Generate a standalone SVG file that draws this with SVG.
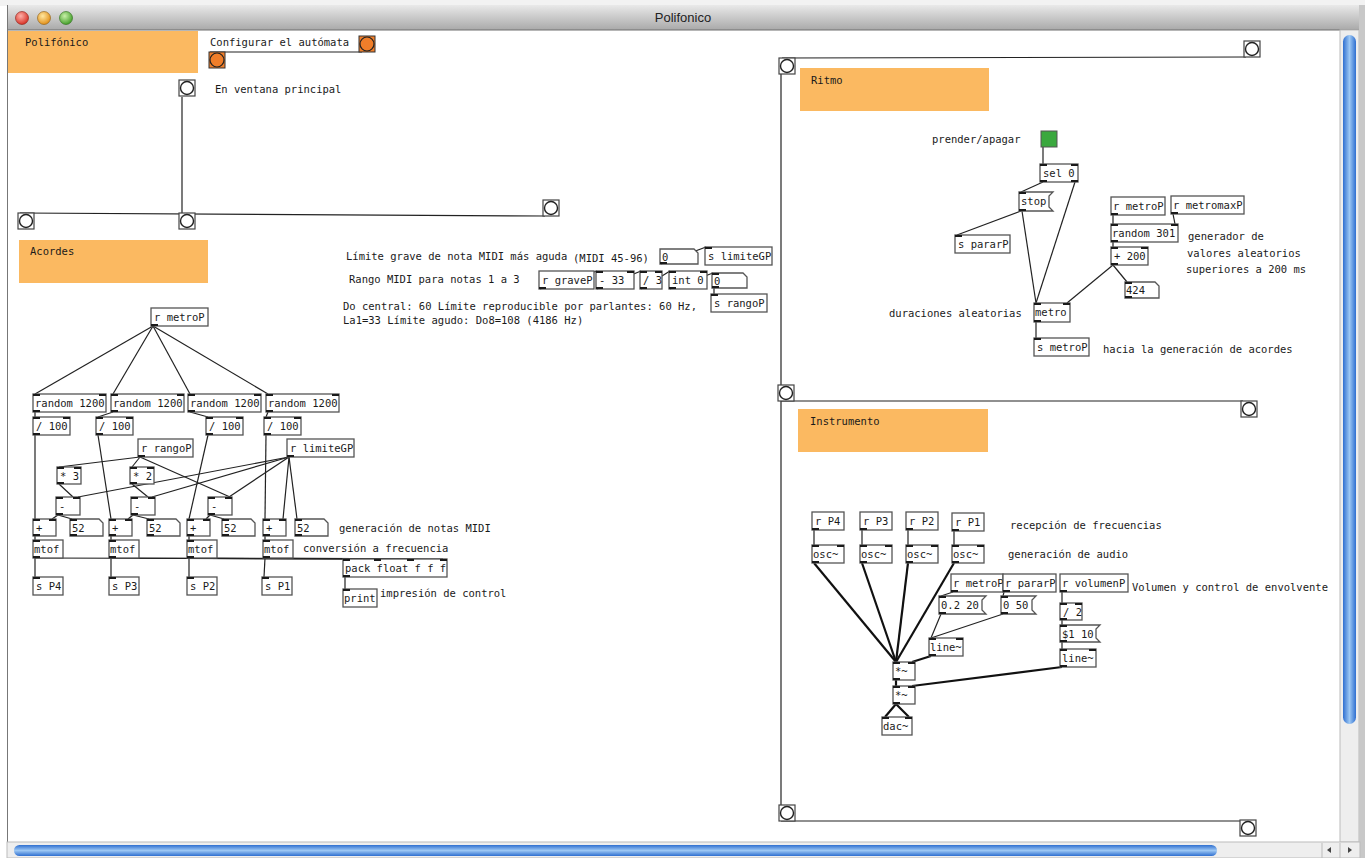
<svg xmlns="http://www.w3.org/2000/svg" width="1365" height="858" viewBox="0 0 1365 858">
<defs>
<linearGradient id="tb" x1="0" y1="0" x2="0" y2="1"><stop offset="0" stop-color="#e9e9e9"/><stop offset="1" stop-color="#a9a9a9"/></linearGradient>
<linearGradient id="vb" x1="0" y1="0" x2="1" y2="0"><stop offset="0" stop-color="#2f6fd0"/><stop offset="0.5" stop-color="#9cc7f4"/><stop offset="1" stop-color="#2f6fd0"/></linearGradient>
<linearGradient id="hb" x1="0" y1="0" x2="0" y2="1"><stop offset="0" stop-color="#2f6fd0"/><stop offset="0.5" stop-color="#9cc7f4"/><stop offset="1" stop-color="#2f6fd0"/></linearGradient>
<radialGradient id="rd" cx="0.4" cy="0.35" r="0.7"><stop offset="0" stop-color="#ffb0a8"/><stop offset="1" stop-color="#d42a1e"/></radialGradient>
<radialGradient id="yl" cx="0.4" cy="0.35" r="0.7"><stop offset="0" stop-color="#ffe7a0"/><stop offset="1" stop-color="#e08a10"/></radialGradient>
<radialGradient id="gr" cx="0.4" cy="0.35" r="0.7"><stop offset="0" stop-color="#c8f0a8"/><stop offset="1" stop-color="#3c9a22"/></radialGradient>
</defs>
<style>
.b{fill:#fff;stroke:#555;stroke-width:1.3}
.t{font-family:"DejaVu Sans Mono","Liberation Mono",monospace;font-size:10.5px;fill:#1a1a1a}
.cm{font-family:"DejaVu Sans Mono","Liberation Mono",monospace;font-size:10.5px;fill:#1a1a1a}
.io{fill:#1a1a1a}
.c{stroke:#222;stroke-width:1.2;fill:none}
.s{stroke:#111;stroke-width:2.2;fill:none}
.or{fill:#fbb961}
.bg{fill:#fff;stroke:#444;stroke-width:1.2}
.bc{fill:#fff;stroke:#222;stroke-width:1.4}
</style>
<rect x="0" y="0" width="1365" height="858" fill="#fff"/>
<rect x="0" y="0" width="1365" height="6" fill="#f2f2f2"/>
<!-- title bar -->
<rect x="7" y="5" width="1353" height="25" fill="url(#tb)"/>
<line x1="7" y1="30" x2="1360" y2="30" stroke="#6e6e6e"/>
<circle cx="22" cy="18" r="6.5" fill="url(#rd)" stroke="#8a1a12" stroke-width="0.6"/>
<circle cx="44" cy="18" r="6.5" fill="url(#yl)" stroke="#8a5a10" stroke-width="0.6"/>
<circle cx="66" cy="18" r="6.5" fill="url(#gr)" stroke="#2a6a18" stroke-width="0.6"/>
<text x="683" y="22" text-anchor="middle" font-family="Liberation Sans, Arial, sans-serif" font-size="13" fill="#222">Polifonico</text>
<line x1="7.5" y1="5" x2="7.5" y2="842" stroke="#777"/>
<!-- scrollbars -->
<rect x="1340" y="30" width="19" height="812" fill="#eeeeee" stroke="#bbb"/>
<rect x="1343" y="35" width="13" height="689" rx="6.5" fill="url(#vb)"/>
<rect x="1359" y="5" width="6" height="853" fill="#c8c8c8"/>
<rect x="7" y="842" width="1353" height="16" fill="#eeeeee" stroke="#bbb"/>
<rect x="14" y="845" width="1203" height="11" rx="5.5" fill="url(#hb)"/>
<line x1="1322" y1="843" x2="1322" y2="858" stroke="#bbb"/>
<line x1="1340" y1="843" x2="1340" y2="858" stroke="#bbb"/>
<path d="M1331 847 l-4 3 4 3z" fill="#444"/>
<path d="M1348 847 l4 3 -4 3z" fill="#444"/>

<!-- canvases / comments -->
<g id="cnv-polifonico"><rect class="or" x="8" y="31" width="190" height="42"/><text class="cm" x="25" y="46">Polifónico</text></g>
<g id="cnv-acordes"><rect class="or" x="19" y="240" width="189" height="43"/><text class="cm" x="30" y="255">Acordes</text></g>
<g id="cnv-ritmo"><rect class="or" x="800" y="68" width="189" height="43"/><text class="cm" x="811" y="84">Ritmo</text></g>
<g id="cnv-instrumento"><rect class="or" x="798" y="409" width="190" height="43"/><text class="cm" x="810" y="425">Instrumento</text></g>

<g id="comments">
<text class="cm" x="210" y="46">Configurar el autómata</text>
<text class="cm" x="215" y="93">En ventana principal</text>
<text class="cm" x="346" y="260">Límite grave de nota MIDI más aguda</text>
<text class="cm" x="573" y="262">(MIDI 45-96)</text>
<text class="cm" x="349" y="283">Rango MIDI para notas 1 a 3</text>
<text class="cm" x="343" y="310">Do central: 60 Límite reproducible por parlantes: 60 Hz,</text>
<text class="cm" x="343" y="324">La1=33 Límite agudo: Do8=108 (4186 Hz)</text>
<text class="cm" x="339" y="532">generación de notas MIDI</text>
<text class="cm" x="303" y="552">conversión a frecuencia</text>
<text class="cm" x="380" y="597">impresión de control</text>
<text class="cm" x="932" y="143">prender/apagar</text>
<text class="cm" x="1188" y="240">generador de</text>
<text class="cm" x="1187" y="257">valores aleatorios</text>
<text class="cm" x="1186" y="273">superiores a 200 ms</text>
<text class="cm" x="889" y="317">duraciones aleatorias</text>
<text class="cm" x="1103" y="353">hacia la generación de acordes</text>
<text class="cm" x="1010" y="529">recepción de frecuencias</text>
<text class="cm" x="1008" y="558">generación de audio</text>
<text class="cm" x="1132" y="591">Volumen y control de envolvente</text>
</g>

<!-- connectors -->
<g id="connectors">
<line class="c" x1="210" y1="52" x2="362" y2="52"/>
<line class="c" x1="182" y1="97" x2="182" y2="213"/>
<line class="c" x1="20" y1="213" x2="545" y2="216"/>
<line class="c" x1="782" y1="58" x2="1246" y2="57"/>
<line class="c" x1="781" y1="58" x2="781" y2="806"/>
<line class="c" x1="781" y1="401" x2="1243" y2="401"/>
<line class="c" x1="781" y1="821" x2="1242" y2="821"/>
<!-- middle -->
<line class="c" x1="661" y1="264" x2="706" y2="247"/>
<line class="c" x1="540" y1="289" x2="597" y2="271"/>
<line class="c" x1="597" y1="289" x2="641" y2="271"/>
<line class="c" x1="641" y1="289" x2="670" y2="271"/>
<line class="c" x1="670" y1="289" x2="713" y2="273"/>
<line class="c" x1="714" y1="288" x2="714" y2="294"/>
<!-- left patch -->
<line class="c" x1="153" y1="326" x2="35" y2="394"/>
<line class="c" x1="153" y1="326" x2="113" y2="394"/>
<line class="c" x1="153" y1="326" x2="190" y2="394"/>
<line class="c" x1="153" y1="326" x2="268" y2="394"/>
<line class="c" x1="35" y1="412" x2="35" y2="417"/>
<line class="c" x1="113" y1="412" x2="98" y2="417"/>
<line class="c" x1="190" y1="412" x2="208" y2="417"/>
<line class="c" x1="268" y1="412" x2="266" y2="417"/>
<line class="c" x1="35" y1="435" x2="35" y2="519"/>
<line class="c" x1="98" y1="435" x2="111" y2="519"/>
<line class="c" x1="208" y1="435" x2="189" y2="519"/>
<line class="c" x1="266" y1="435" x2="265" y2="519"/>
<line class="c" x1="140" y1="457" x2="59" y2="467"/>
<line class="c" x1="140" y1="457" x2="132" y2="467"/>
<line class="c" x1="140" y1="457" x2="230" y2="497"/>
<line class="c" x1="289" y1="457" x2="78" y2="497"/>
<line class="c" x1="289" y1="457" x2="152" y2="497"/>
<line class="c" x1="289" y1="457" x2="229" y2="497"/>
<line class="c" x1="289" y1="457" x2="283" y2="519"/>
<line class="c" x1="289" y1="457" x2="297" y2="519"/>
<line class="c" x1="59" y1="484" x2="73" y2="497"/>
<line class="c" x1="132" y1="484" x2="148" y2="497"/>
<line class="c" x1="58" y1="515" x2="52" y2="519"/>
<line class="c" x1="58" y1="515" x2="72" y2="519"/>
<line class="c" x1="133" y1="515" x2="128" y2="519"/>
<line class="c" x1="133" y1="515" x2="149" y2="519"/>
<line class="c" x1="210" y1="515" x2="206" y2="519"/>
<line class="c" x1="210" y1="515" x2="224" y2="519"/>
<line class="c" x1="35" y1="536" x2="35" y2="540"/>
<line class="c" x1="111" y1="536" x2="111" y2="540"/>
<line class="c" x1="189" y1="536" x2="189" y2="540"/>
<line class="c" x1="265" y1="536" x2="265" y2="540"/>
<line class="c" x1="35" y1="558" x2="345" y2="559"/>
<line class="c" x1="111" y1="558" x2="377" y2="559"/>
<line class="c" x1="189" y1="558" x2="410" y2="559"/>
<line class="c" x1="265" y1="558" x2="443" y2="559"/>
<line class="c" x1="35" y1="558" x2="35" y2="577"/>
<line class="c" x1="111" y1="558" x2="111" y2="577"/>
<line class="c" x1="189" y1="558" x2="189" y2="577"/>
<line class="c" x1="265" y1="558" x2="264" y2="577"/>
<line class="c" x1="345" y1="577" x2="345" y2="589"/>
<!-- ritmo -->
<line class="c" x1="1043" y1="147" x2="1043" y2="164"/>
<line class="c" x1="1043" y1="182" x2="1021" y2="192"/>
<line class="c" x1="1075" y1="182" x2="1036" y2="303"/>
<line class="c" x1="1021" y1="211" x2="957" y2="235"/>
<line class="c" x1="1022" y1="211" x2="1036" y2="303"/>
<line class="c" x1="1113" y1="215" x2="1113" y2="224"/>
<line class="c" x1="1173" y1="214" x2="1175" y2="224"/>
<line class="c" x1="1113" y1="242" x2="1113" y2="247"/>
<line class="c" x1="1113" y1="265" x2="1067" y2="303"/>
<line class="c" x1="1113" y1="265" x2="1127" y2="282"/>
<line class="c" x1="1036" y1="322" x2="1036" y2="338"/>
<!-- instrumento -->
<line class="c" x1="814" y1="530" x2="814" y2="545"/>
<line class="c" x1="862" y1="530" x2="862" y2="545"/>
<line class="c" x1="908" y1="530" x2="908" y2="545"/>
<line class="c" x1="954" y1="530" x2="954" y2="545"/>
<line class="s" x1="814" y1="563" x2="896" y2="662"/>
<line class="s" x1="862" y1="563" x2="896" y2="662"/>
<line class="s" x1="908" y1="563" x2="896" y2="662"/>
<line class="s" x1="954" y1="563" x2="896" y2="662"/>
<line class="c" x1="953" y1="592" x2="941" y2="596"/>
<line class="c" x1="1004" y1="592" x2="1003" y2="596"/>
<line class="c" x1="941" y1="614" x2="931" y2="638"/>
<line class="c" x1="1003" y1="614" x2="931" y2="638"/>
<line class="s" x1="931" y1="656" x2="912" y2="662"/>
<line class="s" x1="896" y1="680" x2="896" y2="686"/>
<line class="s" x1="1062" y1="667" x2="912" y2="686"/>
<line class="s" x1="896" y1="704" x2="885" y2="717"/>
<line class="s" x1="896" y1="704" x2="909" y2="717"/>
<line class="c" x1="1062" y1="592" x2="1062" y2="603"/>
<line class="c" x1="1062" y1="620" x2="1062" y2="625"/>
<line class="c" x1="1062" y1="642" x2="1062" y2="649"/>
</g>

<!-- bangs -->
<g id="bang-conf1"><rect x="359" y="36" width="16" height="16" fill="#f07e2a" stroke="#333"/><circle cx="367" cy="44" r="7" fill="#f07e2a" stroke="#222" stroke-width="1.2"/></g>
<g id="bang-conf2"><rect x="209" y="52" width="16" height="16" fill="#f07e2a" stroke="#333"/><circle cx="217" cy="60" r="7" fill="#f07e2a" stroke="#222" stroke-width="1.2"/></g>
<g id="bang-main"><rect class="bg" x="179" y="80" width="16" height="16"/><circle class="bc" cx="187" cy="88" r="6.5"/></g>
<g id="bang-a1"><rect class="bg" x="18" y="213" width="16" height="16"/><circle class="bc" cx="26" cy="221" r="6.5"/></g>
<g id="bang-a2"><rect class="bg" x="179" y="213" width="16" height="16"/><circle class="bc" cx="187" cy="221" r="6.5"/></g>
<g id="bang-a3"><rect class="bg" x="543" y="200" width="16" height="16"/><circle class="bc" cx="551" cy="208" r="6.5"/></g>
<g id="bang-r1"><rect class="bg" x="779" y="58" width="16" height="16"/><circle class="bc" cx="787" cy="66" r="6.5"/></g>
<g id="bang-r2"><rect class="bg" x="1244" y="41" width="16" height="16"/><circle class="bc" cx="1252" cy="49" r="6.5"/></g>
<g id="bang-i1"><rect class="bg" x="778" y="385" width="16" height="16"/><circle class="bc" cx="786" cy="393" r="6.5"/></g>
<g id="bang-i2"><rect class="bg" x="1241" y="401" width="16" height="16"/><circle class="bc" cx="1249" cy="409" r="6.5"/></g>
<g id="bang-e1"><rect class="bg" x="779" y="805" width="16" height="16"/><circle class="bc" cx="787" cy="813" r="6.5"/></g>
<g id="bang-e2"><rect class="bg" x="1240" y="820" width="16" height="16"/><circle class="bc" cx="1248" cy="828" r="6.5"/></g>

<!-- middle objects -->
<g id="num-lim"><path class="b" d="M660 249H694L698 253V264H660Z"/><text class="t" x="662" y="261">0</text><rect class="io" x="660" y="262" width="7" height="2"/></g>
<g id="s-limiteGP"><rect class="b" x="705" y="247" width="67" height="18"/><text class="t" x="708" y="260">s limiteGP</text><rect class="io" x="705" y="247" width="7" height="2"/></g>
<g id="r-graveP"><rect class="b" x="539" y="271" width="55" height="18"/><text class="t" x="542" y="284">r graveP</text><rect class="io" x="539" y="287" width="7" height="2"/></g>
<g id="minus33"><rect class="b" x="596" y="271" width="38" height="18"/><text class="t" x="599" y="284">- 33</text><rect class="io" x="596" y="271" width="7" height="2"/><rect class="io" x="627" y="271" width="7" height="2"/><rect class="io" x="596" y="287" width="7" height="2"/></g>
<g id="div3"><rect class="b" x="640" y="271" width="22" height="18"/><text class="t" x="643" y="284">/ 3</text><rect class="io" x="640" y="271" width="7" height="2"/><rect class="io" x="655" y="271" width="7" height="2"/><rect class="io" x="640" y="287" width="7" height="2"/></g>
<g id="int0"><rect class="b" x="669" y="271" width="38" height="18"/><text class="t" x="672" y="284">int 0</text><rect class="io" x="669" y="271" width="7" height="2"/><rect class="io" x="700" y="271" width="7" height="2"/><rect class="io" x="669" y="287" width="7" height="2"/></g>
<g id="num-rango"><path class="b" d="M712 273H743L747 277V288H712Z"/><text class="t" x="714" y="285">0</text><rect class="io" x="712" y="273" width="7" height="2"/><rect class="io" x="712" y="286" width="7" height="2"/></g>
<g id="s-rangoP"><rect class="b" x="711" y="294" width="56" height="18"/><text class="t" x="714" y="307">s rangoP</text><rect class="io" x="711" y="294" width="7" height="2"/></g>

<!-- left patch -->
<g id="r-metroP-a"><rect class="b" x="151" y="308" width="57" height="18"/><text class="t" x="154" y="321">r metroP</text><rect class="io" x="151" y="324" width="7" height="2"/></g>
<g id="rnd1"><rect class="b" x="33" y="394" width="73" height="18"/><text class="t" x="35" y="407">random 1200</text><rect class="io" x="33" y="394" width="7" height="2"/><rect class="io" x="99" y="394" width="7" height="2"/><rect class="io" x="33" y="410" width="7" height="2"/></g>
<g id="rnd2"><rect class="b" x="111" y="394" width="73" height="18"/><text class="t" x="113" y="407">random 1200</text><rect class="io" x="111" y="394" width="7" height="2"/><rect class="io" x="177" y="394" width="7" height="2"/><rect class="io" x="111" y="410" width="7" height="2"/></g>
<g id="rnd3"><rect class="b" x="188" y="394" width="73" height="18"/><text class="t" x="190" y="407">random 1200</text><rect class="io" x="188" y="394" width="7" height="2"/><rect class="io" x="254" y="394" width="7" height="2"/><rect class="io" x="188" y="410" width="7" height="2"/></g>
<g id="rnd4"><rect class="b" x="266" y="394" width="73" height="18"/><text class="t" x="268" y="407">random 1200</text><rect class="io" x="266" y="394" width="7" height="2"/><rect class="io" x="332" y="394" width="7" height="2"/><rect class="io" x="266" y="410" width="7" height="2"/></g>
<g id="d1001"><rect class="b" x="33" y="417" width="37" height="18"/><text class="t" x="36" y="430">/ 100</text><rect class="io" x="33" y="417" width="7" height="2"/><rect class="io" x="63" y="417" width="7" height="2"/><rect class="io" x="33" y="433" width="7" height="2"/></g>
<g id="d1002"><rect class="b" x="96" y="417" width="37" height="18"/><text class="t" x="99" y="430">/ 100</text><rect class="io" x="96" y="417" width="7" height="2"/><rect class="io" x="126" y="417" width="7" height="2"/><rect class="io" x="96" y="433" width="7" height="2"/></g>
<g id="d1003"><rect class="b" x="206" y="417" width="37" height="18"/><text class="t" x="209" y="430">/ 100</text><rect class="io" x="206" y="417" width="7" height="2"/><rect class="io" x="236" y="417" width="7" height="2"/><rect class="io" x="206" y="433" width="7" height="2"/></g>
<g id="d1004"><rect class="b" x="264" y="417" width="37" height="18"/><text class="t" x="267" y="430">/ 100</text><rect class="io" x="264" y="417" width="7" height="2"/><rect class="io" x="294" y="417" width="7" height="2"/><rect class="io" x="264" y="433" width="7" height="2"/></g>
<g id="r-rangoP"><rect class="b" x="138" y="439" width="55" height="18"/><text class="t" x="141" y="452">r rangoP</text><rect class="io" x="138" y="455" width="7" height="2"/></g>
<g id="r-limiteGP"><rect class="b" x="287" y="439" width="67" height="18"/><text class="t" x="290" y="452">r limiteGP</text><rect class="io" x="287" y="455" width="7" height="2"/></g>
<g id="mul3"><rect class="b" x="57" y="467" width="24" height="17"/><text class="t" x="60" y="480">* 3</text><rect class="io" x="57" y="467" width="7" height="2"/><rect class="io" x="74" y="467" width="7" height="2"/><rect class="io" x="57" y="482" width="7" height="2"/></g>
<g id="mul2"><rect class="b" x="130" y="467" width="24" height="17"/><text class="t" x="133" y="480">* 2</text><rect class="io" x="130" y="467" width="7" height="2"/><rect class="io" x="147" y="467" width="7" height="2"/><rect class="io" x="130" y="482" width="7" height="2"/></g>
<g id="sub1"><rect class="b" x="56" y="497" width="24" height="18"/><text class="t" x="59" y="510">-</text><rect class="io" x="56" y="497" width="7" height="2"/><rect class="io" x="73" y="497" width="7" height="2"/><rect class="io" x="56" y="513" width="7" height="2"/></g>
<g id="sub2"><rect class="b" x="131" y="497" width="24" height="18"/><text class="t" x="134" y="510">-</text><rect class="io" x="131" y="497" width="7" height="2"/><rect class="io" x="148" y="497" width="7" height="2"/><rect class="io" x="131" y="513" width="7" height="2"/></g>
<g id="sub3"><rect class="b" x="208" y="497" width="24" height="18"/><text class="t" x="211" y="510">-</text><rect class="io" x="208" y="497" width="7" height="2"/><rect class="io" x="225" y="497" width="7" height="2"/><rect class="io" x="208" y="513" width="7" height="2"/></g>
<g id="add1"><rect class="b" x="33" y="519" width="23" height="17"/><text class="t" x="36" y="532">+</text><rect class="io" x="33" y="519" width="7" height="2"/><rect class="io" x="49" y="519" width="7" height="2"/><rect class="io" x="33" y="534" width="7" height="2"/></g>
<g id="add2"><rect class="b" x="109" y="519" width="23" height="17"/><text class="t" x="112" y="532">+</text><rect class="io" x="109" y="519" width="7" height="2"/><rect class="io" x="125" y="519" width="7" height="2"/><rect class="io" x="109" y="534" width="7" height="2"/></g>
<g id="add3"><rect class="b" x="187" y="519" width="23" height="17"/><text class="t" x="190" y="532">+</text><rect class="io" x="187" y="519" width="7" height="2"/><rect class="io" x="203" y="519" width="7" height="2"/><rect class="io" x="187" y="534" width="7" height="2"/></g>
<g id="add4"><rect class="b" x="263" y="519" width="23" height="17"/><text class="t" x="266" y="532">+</text><rect class="io" x="263" y="519" width="7" height="2"/><rect class="io" x="279" y="519" width="7" height="2"/><rect class="io" x="263" y="534" width="7" height="2"/></g>
<g id="n52a"><path class="b" d="M70 519H99L103 523V536H70Z"/><text class="t" x="72" y="532">52</text><rect class="io" x="70" y="519" width="7" height="2"/><rect class="io" x="70" y="534" width="7" height="2"/></g>
<g id="n52b"><path class="b" d="M147 519H176L180 523V536H147Z"/><text class="t" x="149" y="532">52</text><rect class="io" x="147" y="519" width="7" height="2"/><rect class="io" x="147" y="534" width="7" height="2"/></g>
<g id="n52c"><path class="b" d="M222 519H251L255 523V536H222Z"/><text class="t" x="224" y="532">52</text><rect class="io" x="222" y="519" width="7" height="2"/><rect class="io" x="222" y="534" width="7" height="2"/></g>
<g id="n52d"><path class="b" d="M295 519H324L328 523V536H295Z"/><text class="t" x="297" y="532">52</text><rect class="io" x="295" y="519" width="7" height="2"/><rect class="io" x="295" y="534" width="7" height="2"/></g>
<g id="mtof1"><rect class="b" x="33" y="540" width="30" height="18"/><text class="t" x="34" y="553">mtof</text><rect class="io" x="33" y="540" width="7" height="2"/><rect class="io" x="33" y="556" width="7" height="2"/></g>
<g id="mtof2"><rect class="b" x="109" y="540" width="30" height="18"/><text class="t" x="110" y="553">mtof</text><rect class="io" x="109" y="540" width="7" height="2"/><rect class="io" x="109" y="556" width="7" height="2"/></g>
<g id="mtof3"><rect class="b" x="187" y="540" width="30" height="18"/><text class="t" x="188" y="553">mtof</text><rect class="io" x="187" y="540" width="7" height="2"/><rect class="io" x="187" y="556" width="7" height="2"/></g>
<g id="mtof4"><rect class="b" x="263" y="540" width="30" height="18"/><text class="t" x="264" y="553">mtof</text><rect class="io" x="263" y="540" width="7" height="2"/><rect class="io" x="263" y="556" width="7" height="2"/></g>
<g id="sP4"><rect class="b" x="33" y="577" width="30" height="18"/><text class="t" x="36" y="590">s P4</text><rect class="io" x="33" y="577" width="7" height="2"/></g>
<g id="sP3"><rect class="b" x="109" y="577" width="30" height="18"/><text class="t" x="112" y="590">s P3</text><rect class="io" x="109" y="577" width="7" height="2"/></g>
<g id="sP2"><rect class="b" x="187" y="577" width="30" height="18"/><text class="t" x="190" y="590">s P2</text><rect class="io" x="187" y="577" width="7" height="2"/></g>
<g id="sP1"><rect class="b" x="262" y="577" width="30" height="18"/><text class="t" x="265" y="590">s P1</text><rect class="io" x="262" y="577" width="7" height="2"/></g>
<g id="pack"><rect class="b" x="343" y="559" width="104" height="18"/><text class="t" x="345" y="572">pack float f f f</text><rect class="io" x="343" y="559" width="7" height="2"/><rect class="io" x="374" y="559" width="7" height="2"/><rect class="io" x="407" y="559" width="7" height="2"/><rect class="io" x="440" y="559" width="7" height="2"/><rect class="io" x="343" y="575" width="7" height="2"/></g>
<g id="print"><rect class="b" x="343" y="589" width="34" height="18"/><text class="t" x="344" y="602">print</text><rect class="io" x="343" y="589" width="7" height="2"/></g>

<!-- ritmo -->
<g id="toggle"><rect x="1041" y="131" width="16" height="16" fill="#3aa83e" stroke="#555"/></g>
<g id="sel0"><rect class="b" x="1040" y="164" width="38" height="18"/><text class="t" x="1043" y="177">sel 0</text><rect class="io" x="1040" y="164" width="7" height="2"/><rect class="io" x="1071" y="164" width="7" height="2"/><rect class="io" x="1040" y="180" width="7" height="2"/><rect class="io" x="1071" y="180" width="7" height="2"/></g>
<g id="stop"><path class="b" d="M1019 192H1053L1049 196V207L1053 211H1019Z"/><text class="t" x="1021" y="205">stop</text><rect class="io" x="1019" y="192" width="7" height="2"/><rect class="io" x="1019" y="209" width="7" height="2"/></g>
<g id="s-pararP"><rect class="b" x="955" y="235" width="55" height="18"/><text class="t" x="958" y="248">s pararP</text><rect class="io" x="955" y="235" width="7" height="2"/></g>
<g id="metro"><rect class="b" x="1034" y="303" width="36" height="19"/><text class="t" x="1035" y="316">metro</text><rect class="io" x="1034" y="303" width="7" height="2"/><rect class="io" x="1063" y="303" width="7" height="2"/><rect class="io" x="1034" y="320" width="7" height="2"/></g>
<g id="s-metroP"><rect class="b" x="1034" y="338" width="55" height="18"/><text class="t" x="1037" y="351">s metroP</text><rect class="io" x="1034" y="338" width="7" height="2"/></g>
<g id="r-metroP-r"><rect class="b" x="1111" y="197" width="54" height="18"/><text class="t" x="1113" y="210">r metroP</text><rect class="io" x="1111" y="213" width="7" height="2"/></g>
<g id="r-metromaxP"><rect class="b" x="1171" y="196" width="73" height="18"/><text class="t" x="1173" y="209">r metromaxP</text><rect class="io" x="1171" y="212" width="7" height="2"/></g>
<g id="rnd301"><rect class="b" x="1111" y="224" width="67" height="18"/><text class="t" x="1112" y="237">random 301</text><rect class="io" x="1111" y="224" width="7" height="2"/><rect class="io" x="1171" y="224" width="7" height="2"/><rect class="io" x="1111" y="240" width="7" height="2"/></g>
<g id="add200"><rect class="b" x="1111" y="247" width="37" height="18"/><text class="t" x="1114" y="260">+ 200</text><rect class="io" x="1111" y="247" width="7" height="2"/><rect class="io" x="1141" y="247" width="7" height="2"/><rect class="io" x="1111" y="263" width="7" height="2"/></g>
<g id="n424"><path class="b" d="M1125 282H1155L1159 286V298H1125Z"/><text class="t" x="1126" y="294">424</text><rect class="io" x="1125" y="282" width="7" height="2"/><rect class="io" x="1125" y="296" width="7" height="2"/></g>

<!-- instrumento -->
<g id="rP4"><rect class="b" x="812" y="512" width="32" height="18"/><text class="t" x="815" y="525">r P4</text><rect class="io" x="812" y="528" width="7" height="2"/></g>
<g id="rP3"><rect class="b" x="860" y="512" width="32" height="18"/><text class="t" x="863" y="525">r P3</text><rect class="io" x="860" y="528" width="7" height="2"/></g>
<g id="rP2"><rect class="b" x="906" y="512" width="32" height="18"/><text class="t" x="909" y="525">r P2</text><rect class="io" x="906" y="528" width="7" height="2"/></g>
<g id="rP1"><rect class="b" x="952" y="513" width="32" height="18"/><text class="t" x="955" y="526">r P1</text><rect class="io" x="952" y="529" width="7" height="2"/></g>
<g id="osc4"><rect class="b" x="812" y="545" width="32" height="18"/><text class="t" x="813" y="558">osc~</text><rect class="io" x="812" y="545" width="7" height="2"/><rect class="io" x="837" y="545" width="7" height="2"/><rect class="io" x="812" y="561" width="7" height="2"/></g>
<g id="osc3"><rect class="b" x="860" y="545" width="32" height="18"/><text class="t" x="861" y="558">osc~</text><rect class="io" x="860" y="545" width="7" height="2"/><rect class="io" x="885" y="545" width="7" height="2"/><rect class="io" x="860" y="561" width="7" height="2"/></g>
<g id="osc2"><rect class="b" x="906" y="545" width="32" height="18"/><text class="t" x="907" y="558">osc~</text><rect class="io" x="906" y="545" width="7" height="2"/><rect class="io" x="931" y="545" width="7" height="2"/><rect class="io" x="906" y="561" width="7" height="2"/></g>
<g id="osc1"><rect class="b" x="952" y="545" width="32" height="18"/><text class="t" x="953" y="558">osc~</text><rect class="io" x="952" y="545" width="7" height="2"/><rect class="io" x="977" y="545" width="7" height="2"/><rect class="io" x="952" y="561" width="7" height="2"/></g>
<g id="r-metroP-i"><rect class="b" x="951" y="574" width="52" height="18"/><text class="t" x="953" y="587">r metroP</text><rect class="io" x="951" y="590" width="7" height="2"/></g>
<g id="r-pararP"><rect class="b" x="1003" y="574" width="53" height="18"/><text class="t" x="1005" y="587">r pararP</text><rect class="io" x="1003" y="590" width="7" height="2"/></g>
<g id="r-volumenP"><rect class="b" x="1060" y="574" width="68" height="18"/><text class="t" x="1062" y="587">r volumenP</text><rect class="io" x="1060" y="590" width="7" height="2"/></g>
<g id="msg0220"><path class="b" d="M939 596H986L982 600V610L986 614H939Z"/><text class="t" x="941" y="609">0.2 20</text><rect class="io" x="939" y="596" width="7" height="2"/><rect class="io" x="939" y="612" width="7" height="2"/></g>
<g id="msg050"><path class="b" d="M1001 596H1036L1032 600V610L1036 614H1001Z"/><text class="t" x="1003" y="609">0 50</text><rect class="io" x="1001" y="596" width="7" height="2"/><rect class="io" x="1001" y="612" width="7" height="2"/></g>
<g id="div2"><rect class="b" x="1060" y="603" width="22" height="17"/><text class="t" x="1063" y="616">/ 2</text><rect class="io" x="1060" y="603" width="7" height="2"/><rect class="io" x="1075" y="603" width="7" height="2"/><rect class="io" x="1060" y="618" width="7" height="2"/></g>
<g id="msg110"><path class="b" d="M1060 625H1100L1096 629V638L1100 642H1060Z"/><text class="t" x="1062" y="638">$1 10</text><rect class="io" x="1060" y="625" width="7" height="2"/><rect class="io" x="1060" y="640" width="7" height="2"/></g>
<g id="line-r"><rect class="b" x="1060" y="649" width="36" height="18"/><text class="t" x="1062" y="662">line~</text><rect class="io" x="1060" y="649" width="7" height="2"/><rect class="io" x="1089" y="649" width="7" height="2"/><rect class="io" x="1060" y="665" width="7" height="2"/></g>
<g id="line-l"><rect class="b" x="929" y="638" width="34" height="18"/><text class="t" x="930" y="651">line~</text><rect class="io" x="929" y="638" width="7" height="2"/><rect class="io" x="956" y="638" width="7" height="2"/><rect class="io" x="929" y="654" width="7" height="2"/></g>
<g id="mul-s1"><rect class="b" x="893" y="662" width="22" height="18"/><text class="t" x="895" y="675">*~</text><rect class="io" x="893" y="662" width="7" height="2"/><rect class="io" x="908" y="662" width="7" height="2"/><rect class="io" x="893" y="678" width="7" height="2"/></g>
<g id="mul-s2"><rect class="b" x="893" y="686" width="22" height="18"/><text class="t" x="895" y="699">*~</text><rect class="io" x="893" y="686" width="7" height="2"/><rect class="io" x="908" y="686" width="7" height="2"/><rect class="io" x="893" y="702" width="7" height="2"/></g>
<g id="dac"><rect class="b" x="882" y="717" width="30" height="18"/><text class="t" x="883" y="730">dac~</text><rect class="io" x="882" y="717" width="7" height="2"/><rect class="io" x="905" y="717" width="7" height="2"/></g>
</svg>
